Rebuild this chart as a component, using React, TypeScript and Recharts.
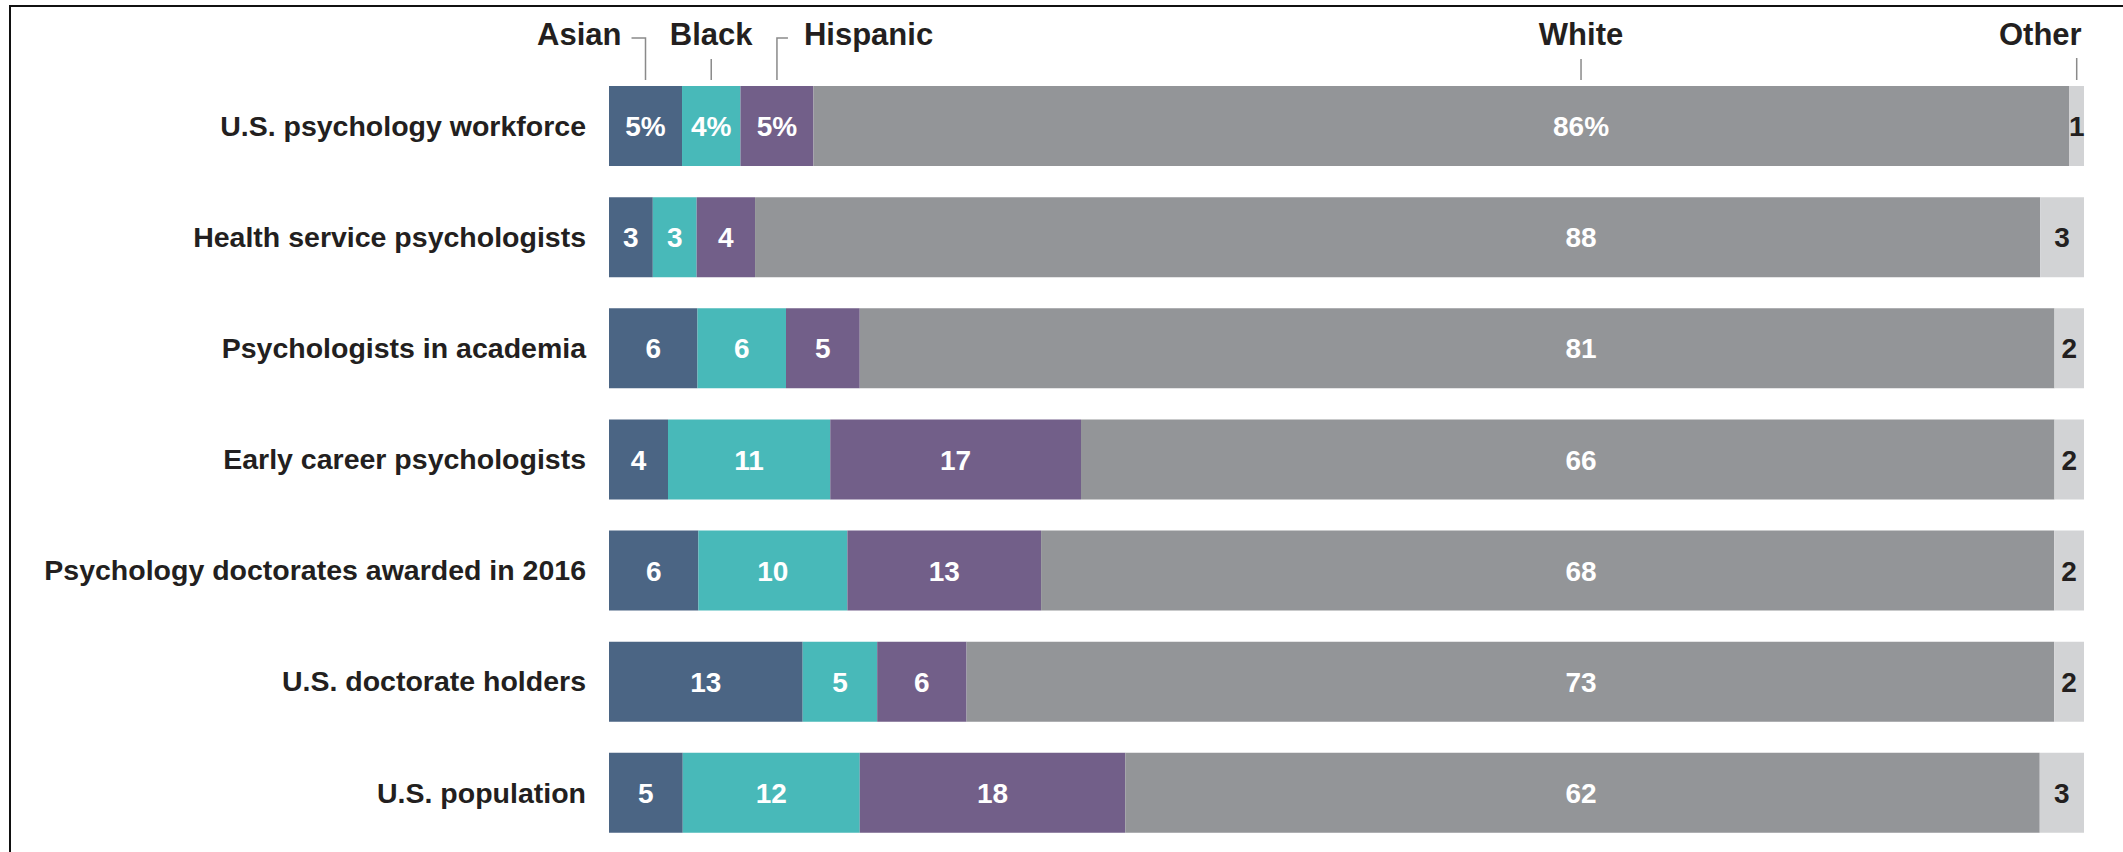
import { BarChart, Bar, XAxis, YAxis, LabelList } from "recharts";

const groups = [
  "U.S. psychology workforce",
  "Health service psychologists",
  "Psychologists in academia",
  "Early career psychologists",
  "Psychology doctorates awarded in 2016",
  "U.S. doctorate holders",
  "U.S. population",
];
const asian = [5, 3, 6, 4, 6, 13, 5];
const black = [4, 3, 6, 11, 10, 5, 12];
const hispanic = [5, 4, 5, 17, 13, 6, 18];
const white = [86, 88, 81, 66, 68, 73, 62];
const other = [1, 3, 2, 2, 2, 2, 3];

const series = [
  { key: "asian", name: "Asian", color: "#4b6584", values: asian },
  { key: "black", name: "Black", color: "#48b9b9", values: black },
  { key: "hispanic", name: "Hispanic", color: "#725f89", values: hispanic },
  { key: "white", name: "White", color: "#939598", values: white },
  { key: "other", name: "Other", color: "#d2d3d5", values: other },
];

const data = groups.map((group, i) => ({
  group,
  asian: asian[i],
  black: black[i],
  hispanic: hispanic[i],
  white: white[i],
  other: other[i],
}));

const W = 2123;
const H = 852;
const AXIS_W = 609;
const MARGIN = { top: 70, right: 39, bottom: 4, left: 0 };
const PLOT_W = W - AXIS_W - MARGIN.right;
// white labels sit at a fixed spot across the rows, not centred in the segment
const WHITE_LABEL_X = AXIS_W + PLOT_W * 0.659;

const FONT = "'Liberation Sans', Arial, sans-serif";
const DARK = "#231f20";
const LINE = "#8a8a8a";

const valueLabel = (key: string) => (props: any) => {
  const { x, y, width, height, index } = props;
  const s = series.find((d) => d.key === key)!;
  const v = s.values[index];
  const pct = index === 0 && key !== "other" ? "%" : "";
  const cx = key === "white" ? WHITE_LABEL_X : x + width / 2;
  return (
    <text
      x={cx}
      y={y + height / 2}
      dy="0.36em"
      textAnchor="middle"
      fill={key === "other" ? DARK : "#fff"}
      fontFamily={FONT}
      fontWeight={700}
      fontSize={28}
    >
      {v}
      {pct}
    </text>
  );
};

const headerLabel = (key: string) => (props: any) => {
  const { x, y, width, index } = props;
  if (index !== 0) return null;
  const s = series.find((d) => d.key === key)!;
  const cx = key === "white" ? WHITE_LABEL_X : x + width / 2;
  const base = y - 41;
  const bottom = y - 6;
  const textProps = {
    y: base,
    fill: DARK,
    fontFamily: FONT,
    fontWeight: 700,
    fontSize: 31,
  };
  if (key === "asian") {
    return (
      <g>
        <path d={`M${cx},${bottom}V${y - 48}H${cx - 14}`} stroke={LINE} strokeWidth={1.5} fill="none" />
        <text x={cx - 24} textAnchor="end" {...textProps}>{s.name}</text>
      </g>
    );
  }
  if (key === "hispanic") {
    return (
      <g>
        <path d={`M${cx},${bottom}V${y - 48}H${cx + 11}`} stroke={LINE} strokeWidth={1.5} fill="none" />
        <text x={cx + 27} textAnchor="start" {...textProps}>{s.name}</text>
      </g>
    );
  }
  if (key === "other") {
    return (
      <g>
        <line x1={cx} x2={cx} y1={y - 28} y2={bottom} stroke={LINE} strokeWidth={1.5} />
        <text x={cx + 5} textAnchor="end" {...textProps}>{s.name}</text>
      </g>
    );
  }
  return (
    <g>
      <line x1={cx} x2={cx} y1={y - 27} y2={bottom} stroke={LINE} strokeWidth={1.5} />
      <text x={cx} textAnchor="middle" {...textProps}>{s.name}</text>
    </g>
  );
};

export default function App() {
  return (
    <div style={{ position: "absolute", left: 0, top: 0, width: W, height: H, background: "#fff" }}>
      <div
        style={{
          position: "absolute",
          left: 9,
          top: 5,
          width: W,
          height: H,
          borderTop: "2px solid #111",
          borderLeft: "2px solid #111",
        }}
      />
      <div style={{ position: "absolute", left: 0, top: 0 }}>
        <BarChart
          width={W}
          height={H}
          data={data}
          layout="vertical"
          stackOffset="expand"
          margin={MARGIN}
          barSize={80}
        >
          <XAxis type="number" domain={[0, 1]} hide />
          <YAxis
            type="category"
            dataKey="group"
            width={AXIS_W}
            axisLine={false}
            tickLine={false}
            tickSize={0}
            tickMargin={23}
            interval={0}
            tick={{ fill: DARK, fontSize: 28.5, fontWeight: 700, fontFamily: FONT }}
          />
          {series.map((s) => (
            <Bar key={s.key} dataKey={s.key} stackId="a" fill={s.color} isAnimationActive={false}>
              <LabelList dataKey={s.key} content={valueLabel(s.key)} />
              <LabelList dataKey={s.key} content={headerLabel(s.key)} />
            </Bar>
          ))}
        </BarChart>
      </div>
    </div>
  );
}
